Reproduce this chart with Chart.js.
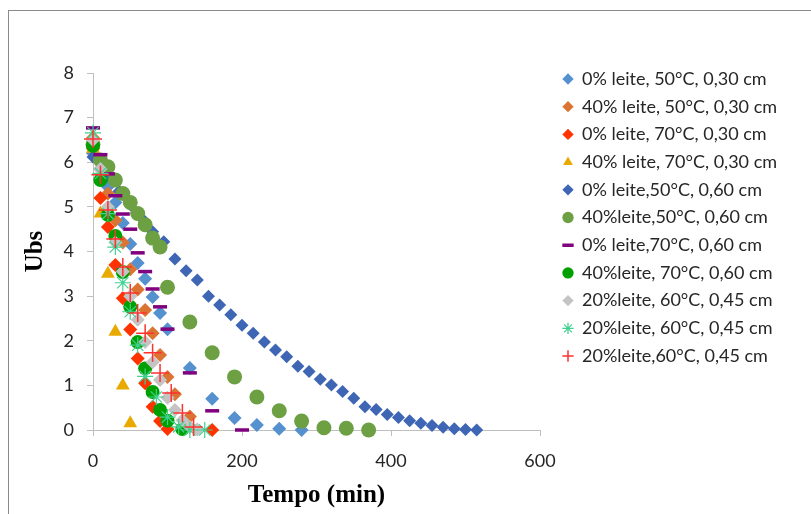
<!DOCTYPE html>
<html>
<head>
<meta charset="utf-8">
<script src="https://cdn.jsdelivr.net/npm/chart.js@4.4.1/dist/chart.umd.min.js"></script>
<style>
  html, body { margin: 0; padding: 0; background: #fff; }
  #wrap { position: relative; width: 811px; height: 514px; }
  #frame { position: absolute; left: 8px; top: 10px; right: -2px; bottom: -2px;
           border-left: 1px solid #8a8a8a; border-top: 1px solid #8a8a8a; pointer-events: none; }
</style>
</head>
<body>
<div id="wrap">
  <canvas id="chart" width="811" height="514"></canvas>
  <div id="frame"></div>
</div>
<script>
// Series labels (legend order)
const seriesLabels = [
  '0% leite, 50°C, 0,30 cm',
  '40% leite, 50°C, 0,30 cm',
  '0% leite, 70°C, 0,30 cm',
  '40% leite, 70°C, 0,30 cm',
  '0% leite,50°C, 0,60 cm',
  '40%leite,50°C, 0,60 cm',
  '0% leite,70°C, 0,60 cm',
  '40%leite, 70°C, 0,60 cm',
  '20%leite, 60°C, 0,45 cm',
  '20%leite, 60°C, 0,45 cm',
  '20%leite,60°C, 0,45 cm'
];

// tempo (min) e Ubs de cada série
const t1 = [0, 10, 20, 30, 40, 50, 60, 70, 80, 90, 100, 130, 160, 190, 220, 250, 280];
const u1 = [6.2, 5.85, 5.45, 5.1, 4.64, 4.17, 3.74, 3.39, 2.98, 2.62, 2.26, 1.39, 0.70, 0.27, 0.11, 0.03, 0.0];

const t2 = [0, 10, 20, 30, 40, 50, 60, 70, 80, 90, 100, 110, 130];
const u2 = [6.55, 5.85, 5.3, 4.7, 4.2, 3.6, 3.15, 2.69, 2.17, 1.68, 1.19, 0.8, 0.3];

const t3 = [0, 10, 20, 30, 40, 50, 60, 70, 80, 90, 100, 160];
const u3 = [6.3, 5.2, 4.55, 3.7, 2.95, 2.25, 1.6, 1.05, 0.52, 0.2, 0.02, 0.0];

const t4 = [0, 10, 20, 30, 40, 50];
const u4 = [6.3, 4.85, 3.5, 2.2, 1.0, 0.15];

const t5 = [0, 20, 35, 50, 65, 80, 95, 110, 125, 140, 155, 170, 185, 200, 215, 230, 245, 260,
            275, 290, 305, 320, 335, 350, 365, 380, 395, 410, 425, 440, 455, 470, 485, 500, 515];
const u5 = [6.12, 5.7, 5.35, 5.05, 4.75, 4.44, 4.22, 3.83, 3.57, 3.36, 3.0, 2.8, 2.58, 2.35, 2.17, 1.97, 1.79, 1.64,
            1.43, 1.31, 1.14, 1.01, 0.86, 0.71, 0.52, 0.46, 0.35, 0.28, 0.21, 0.15, 0.10, 0.06, 0.03, 0.01, 0.0];

const t6 = [0, 10, 20, 30, 40, 50, 60, 70, 80, 90, 100, 130, 160, 190, 220, 250, 280, 310, 340, 370];
const u6 = [6.4, 6.05, 5.9, 5.6, 5.3, 5.1, 4.85, 4.6, 4.3, 4.1, 3.2, 2.42, 1.73, 1.19, 0.74, 0.43, 0.2, 0.05, 0.04, 0.0];

const t7 = [0, 10, 20, 30, 40, 50, 60, 70, 80, 90, 100, 130, 160, 200];
const u7 = [6.77, 6.17, 5.74, 5.25, 4.84, 4.5, 3.97, 3.55, 3.16, 2.76, 2.26, 1.28, 0.43, 0.0];

const t8 = [0, 10, 20, 30, 40, 50, 60, 70, 80, 90, 100, 120];
const u8 = [6.37, 5.6, 4.82, 4.35, 3.54, 2.76, 1.97, 1.38, 0.85, 0.45, 0.21, 0.02];

const t9 = [0, 10, 20, 30, 40, 50, 60, 70, 80, 90, 100, 110, 120, 130, 140];
const u9 = [6.5, 5.85, 5.0, 4.2, 3.55, 3.0, 2.47, 1.97, 1.52, 1.12, 0.72, 0.45, 0.22, 0.07, 0.01];

const t10 = [0, 10, 20, 30, 40, 50, 60, 70, 85, 100, 115, 130, 150];
const u10 = [6.66, 5.75, 4.85, 4.1, 3.3, 2.65, 1.9, 1.2, 0.74, 0.29, 0.07, 0.0, 0.0];

const t11 = [0, 10, 20, 30, 40, 50, 60, 70, 80, 90, 105, 120, 135];
const u11 = [6.52, 5.72, 4.93, 4.28, 3.65, 3.07, 2.62, 2.17, 1.73, 1.28, 0.83, 0.38, 0.07];

const xTicks = [0, 200, 400, 600];
const yTicks = [0, 1, 2, 3, 4, 5, 6, 7, 8];

function pts(t, u) {
  return t.map((v, i) => ({ x: v, y: u[i] }));
}

// estilo dos marcadores (à maneira do Excel)
const styles = [
  { pointStyle: 'rectRot', backgroundColor: '#5591CF', radius: 7 },
  { pointStyle: 'rectRot', backgroundColor: '#DB7432', radius: 7 },
  { pointStyle: 'rectRot', backgroundColor: '#FF3300', radius: 7 },
  { pointStyle: 'triangle', backgroundColor: '#E8AA00', radius: 8 },
  { pointStyle: 'rectRot', backgroundColor: '#3E66B4', radius: 6.5 },
  { pointStyle: 'circle', backgroundColor: '#6CA043', radius: 7.5 },
  { pointStyle: 'line', borderColor: '#800080', borderWidth: 3.5, radius: 7 },
  { pointStyle: 'circle', backgroundColor: '#00A000', radius: 7 },
  { pointStyle: 'rectRot', backgroundColor: '#C4C4C4', radius: 7 },
  { pointStyle: 'star', borderColor: '#40D090', borderWidth: 1.2, radius: 8 },
  { pointStyle: 'cross', borderColor: '#FF3030', borderWidth: 1.5, radius: 9 }
];

const series = [[t1, u1], [t2, u2], [t3, u3], [t4, u4], [t5, u5], [t6, u6],
                [t7, u7], [t8, u8], [t9, u9], [t10, u10], [t11, u11]];

const datasets = series.map((s, i) => {
  const st = styles[i];
  return {
    label: seriesLabels[i],
    data: pts(s[0], s[1]),
    pointStyle: st.pointStyle,
    pointRadius: st.radius,
    pointHoverRadius: st.radius,
    backgroundColor: st.backgroundColor || st.borderColor,
    borderColor: st.borderColor || st.backgroundColor,
    borderWidth: st.borderWidth || 0,
    order: series.length - i,   // later series drawn on top, like Excel
    clip: false
  };
});

const tickFont = { family: 'Lato', size: 18 };
const titleFont = { family: 'Liberation Serif', size: 25, weight: 'bold', lineHeight: 1.2 };

// put legend where the original one sits
const legendShift = {
  id: 'legendShift',
  afterLayout(chart) {
    const lg = chart.legend;
    const pad = lg.options.labels.padding;
    const dx = 563 - (lg.left + pad);
    const dy = 79 - (lg.top + pad + 9);
    lg.left += dx; lg.right += dx;
    lg.top += dy; lg.bottom += dy;
  }
};

const ctx = document.getElementById('chart').getContext('2d');
const chart = new Chart(ctx, {
  type: 'scatter',
  data: { datasets: datasets },
  plugins: [legendShift],
  options: {
    responsive: false,
    animation: false,
    devicePixelRatio: 1,
    layout: { padding: { left: 0, top: 73, right: 0, bottom: 0 } },
    plugins: {
      tooltip: { enabled: false },
      legend: {
        position: 'right',
        align: 'start',
        maxWidth: 400,
        labels: {
          usePointStyle: true,
          boxWidth: 10,
          boxHeight: 8,
          padding: 9.7,
          color: '#262626',
          font: { family: 'Lato', size: 18 },
          sort: (a, b) => a.datasetIndex - b.datasetIndex
        }
      }
    },
    scales: {
      x: {
        type: 'linear',
        min: 0, max: 600,
        afterBuildTicks: (axis) => { axis.ticks = xTicks.map(v => ({ value: v })); },
        ticks: { color: '#262626', font: tickFont, padding: 14 },
        grid: { drawOnChartArea: false, drawTicks: true, tickLength: 6, color: '#bfbfbf' },
        border: { color: '#bfbfbf' },
        title: { display: true, text: 'Tempo (min)', color: '#000', font: titleFont, padding: { top: 0, bottom: 3 } },
        afterFit: (axis) => { axis.height = 84; }
      },
      y: {
        min: 0, max: 8,
        afterBuildTicks: (axis) => { axis.ticks = yTicks.map(v => ({ value: v })); },
        ticks: { color: '#262626', font: tickFont, padding: 13 },
        grid: { drawOnChartArea: false, drawTicks: true, tickLength: 6, color: '#bfbfbf' },
        border: { color: '#bfbfbf' },
        title: { display: true, text: 'Ubs', color: '#000', font: titleFont, padding: { top: 21, bottom: 0 } },
        afterFit: (axis) => { axis.width = 93; }
      }
    }
  }
});

// make the plot area end at x = 540 like the original
chart.options.layout.padding.right = Math.max(0, 811 - 540 - chart.legend.width);
chart.update('none');
</script>
</body>
</html>
